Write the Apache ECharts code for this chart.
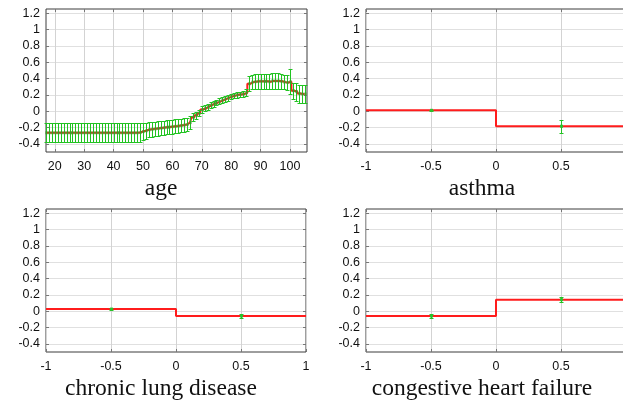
<!DOCTYPE html>
<html>
<head>
<meta charset="utf-8">
<script src="https://cdn.jsdelivr.net/npm/echarts@6/dist/echarts.min.js"></script>
<style>
  html, body { margin: 0; padding: 0; background: #fff; overflow: hidden; }
  #chart { width: 623px; height: 404px; }
</style>
</head>
<body>
<div id="chart"></div>
<script>
// Shape function for age: one bin per year with its estimated effect and half-width of the error bar
const ageYears = [17, 18, 19, 20, 21, 22, 23, 24, 25, 26, 27, 28, 29, 30, 31, 32, 33, 34, 35, 36,
  37, 38, 39, 40, 41, 42, 43, 44, 45, 46, 47, 48, 49, 50, 51, 52, 53, 54, 55, 56,
  57, 58, 59, 60, 61, 62, 63, 64, 65, 66, 67, 68, 69, 70, 71, 72, 73, 74, 75, 76,
  77, 78, 79, 80, 81, 82, 83, 84, 85, 86, 87, 88, 89, 90, 91, 92, 93, 94, 95, 96,
  97, 98, 99, 100, 101, 102, 103, 104, 105];
const ageEffect = [-0.265, -0.265, -0.265, -0.265, -0.265, -0.265, -0.265, -0.265, -0.265, -0.265,
  -0.265, -0.265, -0.265, -0.265, -0.265, -0.265, -0.265, -0.265, -0.265, -0.265,
  -0.265, -0.265, -0.265, -0.265, -0.265, -0.265, -0.265, -0.265, -0.265, -0.265,
  -0.265, -0.265, -0.262, -0.25, -0.24, -0.228, -0.222, -0.217, -0.212, -0.207,
  -0.202, -0.198, -0.194, -0.19, -0.186, -0.182, -0.176, -0.17, -0.163, -0.14,
  -0.075, -0.05, -0.025, 0.02, 0.035, 0.055, 0.075, 0.09, 0.105, 0.12,
  0.135, 0.15, 0.165, 0.18, 0.19, 0.2, 0.205, 0.21, 0.225, 0.335,
  0.355, 0.36, 0.365, 0.365, 0.365, 0.365, 0.36, 0.37, 0.37, 0.37,
  0.365, 0.355, 0.35, 0.36, 0.25, 0.24, 0.215, 0.21, 0.21];
const ageErr = [0.117, 0.117, 0.117, 0.117, 0.117, 0.117, 0.117, 0.117, 0.117, 0.117,
  0.117, 0.117, 0.117, 0.117, 0.117, 0.117, 0.117, 0.117, 0.117, 0.117,
  0.117, 0.117, 0.117, 0.117, 0.117, 0.117, 0.117, 0.117, 0.117, 0.117,
  0.117, 0.117, 0.115, 0.105, 0.097, 0.092, 0.09, 0.09, 0.089, 0.088,
  0.087, 0.086, 0.086, 0.085, 0.085, 0.084, 0.083, 0.082, 0.081, 0.08,
  0.05, 0.045, 0.04, 0.038, 0.036, 0.035, 0.035, 0.035, 0.035, 0.035,
  0.035, 0.035, 0.035, 0.035, 0.035, 0.035, 0.035, 0.035, 0.04, 0.09,
  0.09, 0.09, 0.09, 0.09, 0.09, 0.09, 0.09, 0.095, 0.095, 0.095,
  0.095, 0.09, 0.09, 0.15, 0.1, 0.11, 0.11, 0.11, 0.11];
const ageTicks = [20, 30, 40, 50, 60, 70, 80, 90, 100];

// Binary features: effect for the "absent" (-0.5) and "present" (0.5) levels
const binaryLevels = [-0.5, 0.5];
const binaryEdges = [-1, 0, 1];
const binaryTicks = [-1, -0.5, 0, 0.5, 1];
const asthmaEffect = [0.01, -0.185];
const asthmaErr = [0.006, 0.08];
const lungEffect = [0.025, -0.06];
const lungErr = [0.01, 0.028];
const chfEffect = [-0.06, 0.14];
const chfErr = [0.028, 0.03];

const yTicks = [-0.4, -0.2, 0, 0.2, 0.4, 0.6, 0.8, 1, 1.2];
const panelTitles = ['age', 'asthma', 'chronic lung disease', 'congestive heart failure'];

const RED = '#ff1c1c';
const GREEN = '#22c322';
const LABEL_FONT = { fontFamily: '"Liberation Sans", Arial, sans-serif', fontSize: 12.5, color: '#111' };

const grids = [
  { left: 46, top: 9, width: 261, height: 143 },
  { left: 366, top: 9, width: 260, height: 143 },
  { left: 46, top: 209, width: 260, height: 143 },
  { left: 366, top: 209, width: 260, height: 143 }
].map(g => Object.assign({
  show: true, borderColor: '#3c3c3c', borderWidth: 1, backgroundColor: '#fff',
  containLabel: false, outerBoundsMode: 'none'
}, g));

const tickStyle = { show: true, inside: true, length: 3, lineStyle: { color: '#777', width: 1 } };

function makeXAxes(gi, min, max, ticks) {
  return [
    {
      type: 'value', gridIndex: gi, min: min, max: max, position: 'bottom',
      axisLine: { show: false, onZero: false },
      axisTick: Object.assign({ customValues: ticks }, tickStyle),
      axisLabel: Object.assign({ customValues: ticks, margin: 8, formatter: v => String(v) }, LABEL_FONT),
      splitLine: { show: true, lineStyle: { color: '#d3d3d3', width: 1 } }
    },
    {
      type: 'value', gridIndex: gi, min: min, max: max, position: 'top',
      axisLine: { show: false, onZero: false },
      axisTick: Object.assign({ customValues: ticks }, tickStyle),
      axisLabel: { show: false },
      splitLine: { show: false }
    }
  ];
}

function makeYAxes(gi) {
  return [
    {
      type: 'value', gridIndex: gi, min: -0.5, max: 1.25, position: 'left',
      axisLine: { show: false, onZero: false },
      axisTick: Object.assign({ customValues: yTicks }, tickStyle),
      axisLabel: Object.assign({ customValues: yTicks, margin: 6, formatter: v => String(+v.toFixed(1)) }, LABEL_FONT),
      splitLine: { show: true, lineStyle: { color: '#e0e0e0', width: 1 } }
    },
    {
      type: 'value', gridIndex: gi, min: -0.5, max: 1.25, position: 'right',
      axisLine: { show: false, onZero: false },
      axisTick: Object.assign({ customValues: yTicks }, tickStyle),
      axisLabel: { show: false },
      splitLine: { show: false }
    }
  ];
}

const xAxis = [].concat(
  makeXAxes(0, 17, 105.8, ageTicks),
  makeXAxes(1, -1, 1, binaryTicks),
  makeXAxes(2, -1, 1, binaryTicks),
  makeXAxes(3, -1, 1, binaryTicks)
);
const yAxis = [].concat(makeYAxes(0), makeYAxes(1), makeYAxes(2), makeYAxes(3));

// Error bar: vertical whisker with caps and a small marker at the estimate
function errorBarRenderer(capHalf, dotW, dotH, dotColor) {
  return function (params, api) {
    const x = api.value(0);
    const c = api.coord([x, api.value(1)]);
    const lo = api.coord([x, api.value(2)]);
    const hi = api.coord([x, api.value(3)]);
    const px = Math.round(c[0]) + 0.5;
    const yl = Math.round(lo[1]) + 0.5;
    const yh = Math.round(hi[1]) + 0.5;
    const st = { stroke: GREEN, lineWidth: 1 };
    return {
      type: 'group',
      children: [
        { type: 'line', shape: { x1: px, y1: yl, x2: px, y2: yh }, style: st },
        { type: 'line', shape: { x1: px - capHalf, y1: yl, x2: px + capHalf, y2: yl }, style: st },
        { type: 'line', shape: { x1: px - capHalf, y1: yh, x2: px + capHalf, y2: yh }, style: st },
        { type: 'rect', shape: { x: px - dotW / 2, y: c[1] - dotH / 2, width: dotW, height: dotH }, style: { fill: dotColor } }
      ]
    };
  };
}

function errorData(xs, effect, err) {
  return xs.map((x, i) => [x, effect[i], effect[i] - err[i], effect[i] + err[i]]);
}

function binaryStep(effect) {
  return [
    [binaryEdges[0], effect[0]], [binaryEdges[1], effect[0]],
    [binaryEdges[1], effect[1]], [binaryEdges[2], effect[1]]
  ];
}

const series = [
  {
    type: 'line', xAxisIndex: 0, yAxisIndex: 0, step: 'middle', symbol: 'none', z: 2,
    lineStyle: { color: RED, width: 2 },
    data: ageYears.map((a, i) => [a, ageEffect[i]])
  },
  {
    type: 'custom', xAxisIndex: 0, yAxisIndex: 0, z: 5,
    renderItem: errorBarRenderer(2, 2, 3, '#34a026'),
    encode: { x: 0, y: [1, 2, 3] },
    data: errorData(ageYears, ageEffect, ageErr)
  }
];

[[asthmaEffect, asthmaErr], [lungEffect, lungErr], [chfEffect, chfErr]].forEach((pair, k) => {
  const gi = k + 1;
  series.push({
    type: 'line', xAxisIndex: gi * 2, yAxisIndex: gi * 2, symbol: 'none', z: 2,
    lineStyle: { color: RED, width: 2 },
    data: binaryStep(pair[0])
  });
  series.push({
    type: 'custom', xAxisIndex: gi * 2, yAxisIndex: gi * 2, z: 5,
    renderItem: errorBarRenderer(2, 3, 3, '#2ebe2e'),
    encode: { x: 0, y: [1, 2, 3] },
    data: errorData(binaryLevels, pair[0], pair[1])
  });
});

// Panel captions under each plot
const titlePos = [[161, 189], [482, 189], [161, 389], [482, 389]];
const graphic = panelTitles.map((t, i) => ({
  type: 'text', x: titlePos[i][0], y: titlePos[i][1],
  style: {
    text: t, fill: '#111', align: 'center', verticalAlign: 'middle',
    font: '23.5px "Liberation Serif", "Times New Roman", serif'
  }
}));

const chart = echarts.init(document.getElementById('chart'), null, { renderer: 'canvas' });
chart.setOption({
  animation: false,
  backgroundColor: '#fff',
  grid: grids,
  xAxis: xAxis,
  yAxis: yAxis,
  series: series,
  graphic: graphic
});
</script>
</body>
</html>
